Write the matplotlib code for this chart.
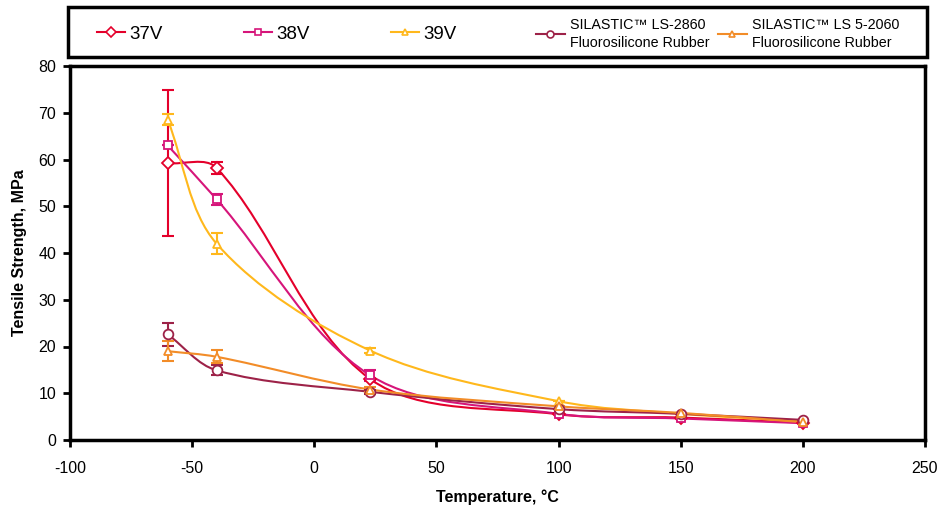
import numpy as np
import matplotlib.pyplot as plt
from matplotlib.path import Path
from matplotlib.patches import PathPatch, Rectangle
from matplotlib.lines import Line2D

plt.rcParams['font.family'] = ['Liberation Sans', 'DejaVu Sans']
plt.rcParams['axes.unicode_minus'] = False

temps = [-60, -40, 23, 100, 150, 200]

v37 = [59.2, 58.2, 13.0, 5.5, 4.8, 3.7]
v37_err = [15.6, 1.2, 0, 0, 0, 0]
v38 = [63.0, 51.5, 13.8, 5.6, 4.6, 3.6]
v38_err = [0, 1.2, 1.2, 0, 0, 0]
v39 = [68.5, 42.0, 19.1, 8.3, 5.6, 4.0]
v39_err = [1.2, 2.2, 0.5, 0, 0, 0]
ls2860 = [22.6, 14.9, 10.3, 6.6, 5.6, 4.3]
ls2860_err = [2.5, 1.1, 0.5, 0, 0, 0]
ls2060 = [19.0, 17.8, 10.8, 7.2, 5.8, 3.8]
ls2060_err = [2.2, 1.4, 0.6, 0, 0, 0]

names = ['37V', '38V', '39V',
         'SILASTIC\u2122 LS-2860\nFluorosilicone Rubber',
         'SILASTIC\u2122 LS 5-2060\nFluorosilicone Rubber']
colors = ['#E4002B', '#D6157A', '#FFB81C', '#9D2248', '#F28C28']
markers = ['D', 's', '^', 'o', '^']
msizes = [6, 6, 6, 7, 6]
series = [(v37, v37_err), (v38, v38_err), (v39, v39_err),
          (ls2860, ls2860_err), (ls2060, ls2060_err)]

# pixel scale of the plot area, used to smooth in screen space
SX = 855 / 350
SY = 374 / 80


def smooth_path(x, y):
    # excel-like smoothed line: cubic bezier, tangents weighted by segment length
    pts = np.column_stack([np.array(x) * SX, np.array(y) * SY]).astype(float)
    n = len(pts)
    tang = []
    for i in range(n):
        if i == 0 or i == n - 1:
            tang.append(None)
            continue
        d0 = np.hypot(*(pts[i] - pts[i - 1]))
        d1 = np.hypot(*(pts[i + 1] - pts[i]))
        tang.append(((pts[i + 1] - pts[i - 1]), d0, d1))
    verts = [pts[0]]
    codes = [Path.MOVETO]
    for i in range(n - 1):
        p1, p2 = pts[i], pts[i + 1]
        if tang[i] is None:
            c1 = p1 + (p2 - p1) / 3
        else:
            t, d0, d1 = tang[i]
            c1 = p1 + t * d1 / (d0 + d1) / 3
        if tang[i + 1] is None:
            c2 = p2 - (p2 - p1) / 3
        else:
            t, d0, d1 = tang[i + 1]
            c2 = p2 - t * d0 / (d0 + d1) / 3
        verts += [c1, c2, p2]
        codes += [Path.CURVE4] * 3
    verts = np.array(verts) / [SX, SY]
    return Path(verts, codes)


W, H = 951, 508
fig = plt.figure(figsize=(W / 100, H / 100), dpi=100)
ax = fig.add_axes([70 / W, 1 - 440 / H, 855 / W, 374 / H])

handles = []
for (vals, errs), c, m, ms, nm in zip(series, colors, markers, msizes, names):
    ax.add_patch(PathPatch(smooth_path(temps, vals), facecolor='none',
                           edgecolor=c, lw=1.5, zorder=2))
    ax.errorbar(temps, vals, yerr=errs, fmt='none', ecolor=c, elinewidth=1.5,
                capsize=4, capthick=1.5, zorder=3)
    ax.plot(temps, vals, ls='none', marker=m, ms=ms, mfc='white', mec=c,
            mew=1.3, zorder=4)
    handles.append(Line2D([], [], color=c, lw=1.5, marker=m, ms=5,
                          mfc='white', mec=c, mew=1.2))

ax.set_xlim(-100, 250)
ax.set_ylim(0, 80)
ax.set_xticks(np.arange(-100, 251, 50))
ax.set_yticks(np.arange(0, 81, 10))
for s in ax.spines.values():
    s.set_linewidth(2.5)
ax.tick_params(width=2, length=5, labelsize=11.5, pad=5)
ax.tick_params(axis='x', pad=10)
ax.set_xlabel('Temperature, \u00b0C', fontsize=11.5, fontweight='bold', labelpad=10)
ax.set_ylabel('Tensile Strength, MPa', fontsize=11.5, fontweight='bold', labelpad=8)

# legend box with entries placed by hand
fig.add_artist(Rectangle((68 / W, 1 - 57 / H), 859 / W, 50 / H,
                         transform=fig.transFigure, fill=False,
                         edgecolor='black', lw=2.5))
entry_x = [97, 244, 391, 536, 718]
for i, (h, nm, x0) in enumerate(zip(handles, names, entry_x)):
    fs = 13.5 if i < 3 else 10.3
    hl = 1.5 if i < 3 else 2.0
    leg = fig.legend([h], [nm], loc='center left',
                     bbox_to_anchor=(x0 / W, 1 - 34 / H),
                     frameon=False, fontsize=fs, handlelength=hl,
                     handletextpad=0.2 if i < 3 else 0.4,
                     borderpad=0, borderaxespad=0)
    for t in leg.get_texts():
        t.set_linespacing(1.35)

fig.savefig('out.png', dpi=100)
